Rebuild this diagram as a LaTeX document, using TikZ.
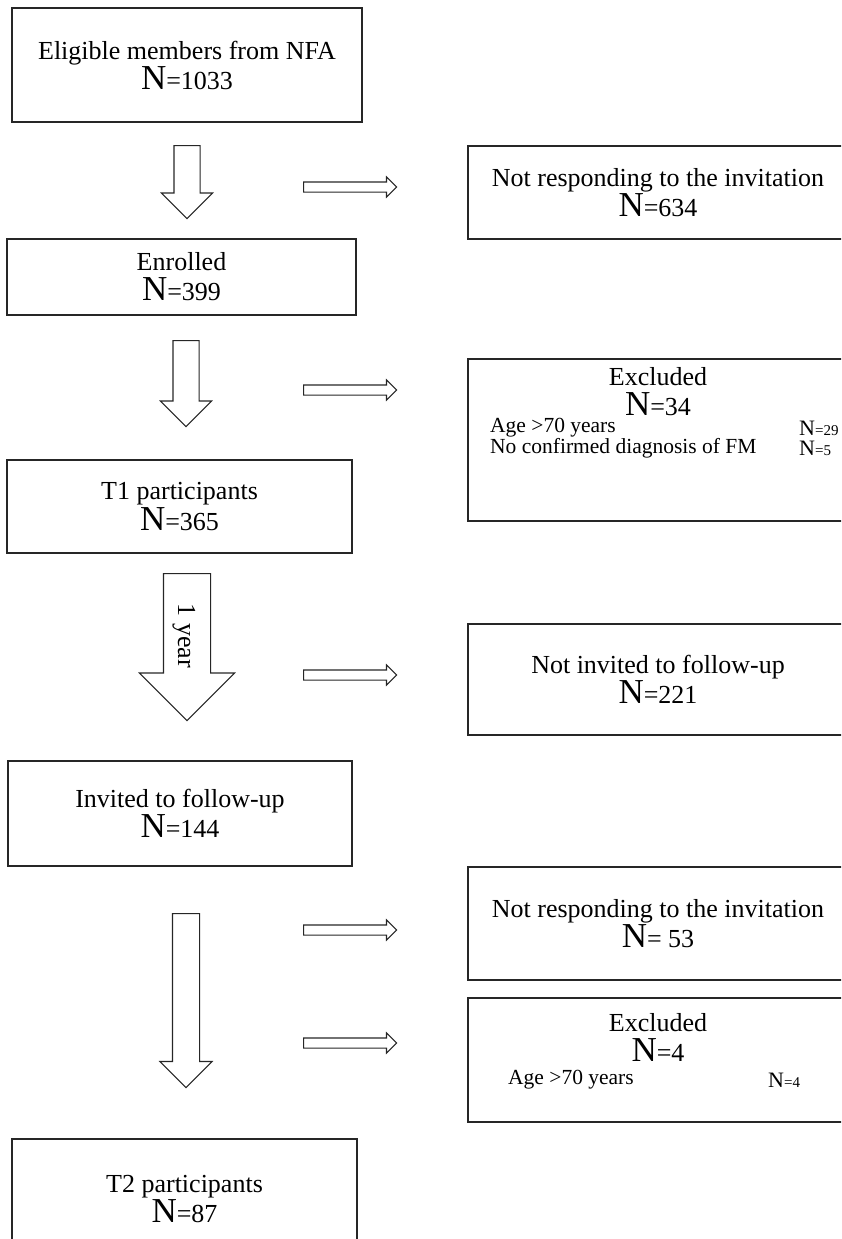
\documentclass[tikz,border=0pt]{standalone}
\usepackage{fontspec}
\setmainfont{Liberation Serif}
\usetikzlibrary{positioning,shapes.arrows}

\begin{document}
\begin{tikzpicture}[x=1pt,y=-1pt,
  box/.style={draw=black!85, line width=1.8pt, inner sep=0pt, align=center,
    font=\fontsize{26}{30}\selectfont},
  txt/.style={inner sep=0pt, align=center, font=\fontsize{26}{30}\selectfont},
  small/.style={inner sep=0pt, font=\fontsize{21.5}{24}\selectfont},
  fat/.style n args={3}{single arrow, draw=black!85, line width=1.1pt, inner sep=0pt,
    inner ysep=#1, single arrow head extend=#2, minimum height=#3, anchor=tail}]
  % Sizes of the letter N
  \newcommand{\Nbig}{{\fontsize{35}{30}\selectfont N}}
  \newcommand{\Nsm}{{\fontsize{22}{24}\selectfont N}}
  \newcommand{\eqsm}[1]{{\fontsize{15}{20}\selectfont=#1}}

  \useasboundingbox (0,0) rectangle (841,1239);
  \clip (0,0) rectangle (841,1239);

  % Left column
  \node[box, minimum width=350pt, minimum height=114pt] (elig) at (187,65)
    {Eligible members from NFA\\\Nbig=1033};
  \node[box, minimum width=349pt, minimum height=76pt] (enrol) at (181.5,277)
    {Enrolled\\\Nbig=399};
  \node[box, minimum width=345pt, minimum height=93pt] (tone) at (179.5,506.5)
    {T1 participants\\[1pt]\Nbig=365};
  \node[box, minimum width=344pt, minimum height=105pt] (invited) at (180,813.5)
    {Invited to follow-up\\\Nbig=144};
  \node[box, minimum width=345pt, minimum height=120pt] (ttwo) at (184.5,1199)
    {T2 participants\\\Nbig=87};

  % Right column
  \node[box, minimum width=380pt, minimum height=93pt] (noresp1) at (658,192.5)
    {Not responding to the invitation\\\Nbig=634};
  \node[box, minimum width=380pt, minimum height=162pt] (excl1) at (658,440) {};
  \node[box, minimum width=380pt, minimum height=111pt] (noinv) at (658,679.5)
    {Not invited to follow-up\\\Nbig=221};
  \node[box, minimum width=380pt, minimum height=113pt] (noresp2) at (658,923.5)
    {Not responding to the invitation\\\Nbig= 53};
  \node[box, minimum width=380pt, minimum height=124pt] (excl2) at (658,1060) {};

  % Excluded, first
  \node[txt] (excl1title) at (658,392) {Excluded\\\Nbig=34};
  \node[small, anchor=west] (age1) at (490,428) {Age >70 years};
  \node[small, anchor=west] (diag1) at (490,448) {No confirmed diagnosis of FM};
  \node[small, anchor=west] (age1n) at (799,428) {\Nsm\eqsm{29}};
  \node[small, anchor=west] (diag1n) at (799,448) {\Nsm\eqsm{5}};

  % Excluded, second
  \node[txt] (excl2title) at (658,1037) {Excluded\\\Nbig=4};
  \node[small, anchor=west] (age2) at (508,1080) {Age >70 years};
  \node[small, anchor=west] (age2n) at (768,1080) {\Nsm\eqsm{4}};

  % Down arrows
  \node[fat={12.5pt}{12.5pt}{73pt}, rotate=-90] (down1) at (187,145) {};
  \node[fat={12.5pt}{12.5pt}{86pt}, rotate=-90] (down2) at (186,340) {};
  \node[fat={23pt}{24pt}{147pt}, rotate=-90] (year) at (187,573) {};
  \node[txt, rotate=-90] (yearlabel) at (184,636) {1 year};
  \node[fat={13pt}{12.5pt}{174pt}, rotate=-90] (down4) at (186,913) {};

  % Side arrows
  \node[fat={4.5pt}{5pt}{93pt}] (side1) at (303,187) {};
  \node[fat={4.5pt}{5pt}{93pt}] (side2) at (303,390) {};
  \node[fat={4.5pt}{5pt}{93pt}] (side3) at (303,675) {};
  \node[fat={4.5pt}{5pt}{93pt}] (side4) at (303,930) {};
  \node[fat={4.5pt}{5pt}{93pt}] (side5) at (303,1043) {};
\end{tikzpicture}
\end{document}
